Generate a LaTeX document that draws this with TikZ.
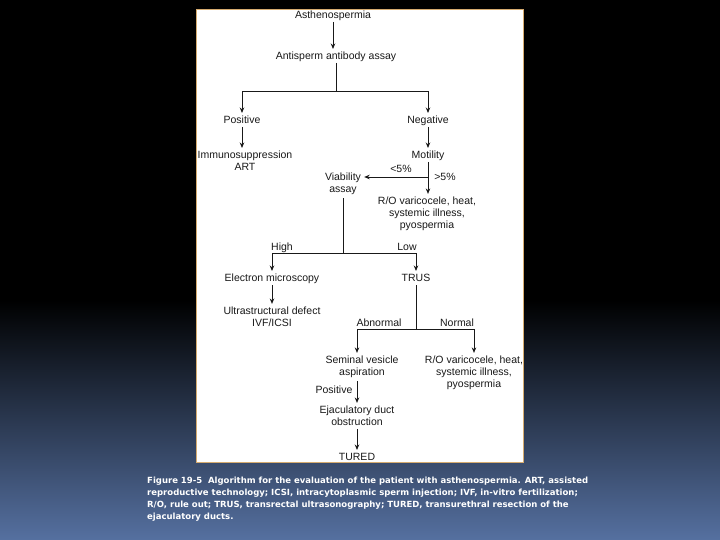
\documentclass[tikz,border=0pt]{standalone}
\usepackage{fontspec}
\setmainfont{Liberation Sans}
\newfontfamily\capfont{DejaVu Sans}
\usetikzlibrary{arrows.meta}
\definecolor{slideblue}{RGB}{85,112,160}
\definecolor{framecol}{RGB}{214,172,112}
\definecolor{inkgray}{RGB}{25,25,25}

\begin{document}
\begin{tikzpicture}[x=1pt,y=-1pt,
  lbl/.style={inner sep=3pt,align=center,text=inkgray,font=\fontsize{10.5}{12}\selectfont},
  one/.style={lbl,text height=7.6pt,text depth=0pt},
  ln/.style={line width=0.9pt,draw=inkgray},
  arr/.style={ln,-{Stealth[length=5.5pt,width=4.5pt]}}]
\useasboundingbox (0,0) rectangle (720,540);
% slide background
\fill[black] (0,0) rectangle (720,300);
\shade[top color=black,bottom color=slideblue] (0,300) rectangle (720,540);
\filldraw[fill=white,draw=framecol,line width=1pt] (196,10) rectangle (523,462);
\begin{scope}
\clip (196.5,10.5) rectangle (522.5,461.5);
% boxes of text
\node[one] (asth) at (333,15) {Asthenospermia};
\node[one] (asa) at (336,56) {Antisperm antibody assay};
\node[one] (pos) at (242,120) {Positive};
\node[one] (neg) at (428,120) {Negative};
\node[lbl] (immuno) at (245,161) {Immunosuppression\\ART};
\node[one] (motil) at (428,155) {Motility};
\node[lbl] (viab) at (343,184) {Viability\\assay};
\node[lbl] (ro1) at (427,214) {R/O varicocele, heat,\\systemic illness,\\pyospermia};
\node[one] (em) at (272,278) {Electron microscopy};
\node[one] (trus) at (416,278) {TRUS};
\node[lbl] (ultra) at (272,317) {Ultrastructural defect\\IVF/ICSI};
\node[lbl] (sva) at (362,367) {Seminal vesicle\\aspiration};
\node[lbl] (ro2) at (474,373) {R/O varicocele, heat,\\systemic illness,\\pyospermia};
\node[lbl] (ejac) at (357,416) {Ejaculatory duct\\obstruction};
\node[one] (tured) at (357,457) {TURED};
% labels on the branches
\node[one] (lt5) at (401,169) {<5\%};
\node[one] (gt5) at (445,177) {>5\%};
\node[one] (high) at (282,247) {High};
\node[one] (low) at (407,247) {Low};
\node[one] (abn) at (379,323) {Abnormal};
\node[one] (norm) at (457,323) {Normal};
\node[one] (pos2) at (334,390) {Positive};
% connectors
\coordinate (split1) at (336,91);
\coordinate (mbend) at (428,177);
\coordinate (split2) at (343,253);
\coordinate (split3) at (416,329);
\draw[arr] (asth) -- (asth |- asa.north);
\draw[ln] (asa) -- (split1);
\draw[arr] (split1) -| (pos);
\draw[arr] (split1) -| (neg);
\draw[arr] (pos) -- (pos |- immuno.north);
\draw[arr] (neg) -- (motil);
\draw[arr] (motil) -- (motil |- ro1.north);
\draw[arr] (mbend) -- (mbend -| viab.east);
\draw[ln] (viab) -- (split2);
\draw[arr] (split2) -| (em);
\draw[arr] (split2) -| (trus);
\draw[arr] (em) -- (ultra);
\draw[ln] (trus) -- (split3);
\draw[arr] (split3) -| (ejac |- sva.north);
\draw[arr] (split3) -| (ro2);
\draw[arr] (ejac |- sva.south) -- (ejac);
\draw[arr] (ejac) -- (tured);
\end{scope}
% caption
\node[anchor=north west,align=left,inner sep=0pt,text=white,
  font=\capfont\bfseries\fontsize{8.5}{12}\selectfont] (caption) at (147,477)
  {Figure 19-5\ \ Algorithm for the evaluation of the patient with asthenospermia. ART, assisted\\
   reproductive technology; ICSI, intracytoplasmic sperm injection; IVF, in-vitro fertilization;\\
   R/O, rule out; TRUS, transrectal ultrasonography; TURED, transurethral resection of the\\
   ejaculatory ducts.};
\end{tikzpicture}
\end{document}
